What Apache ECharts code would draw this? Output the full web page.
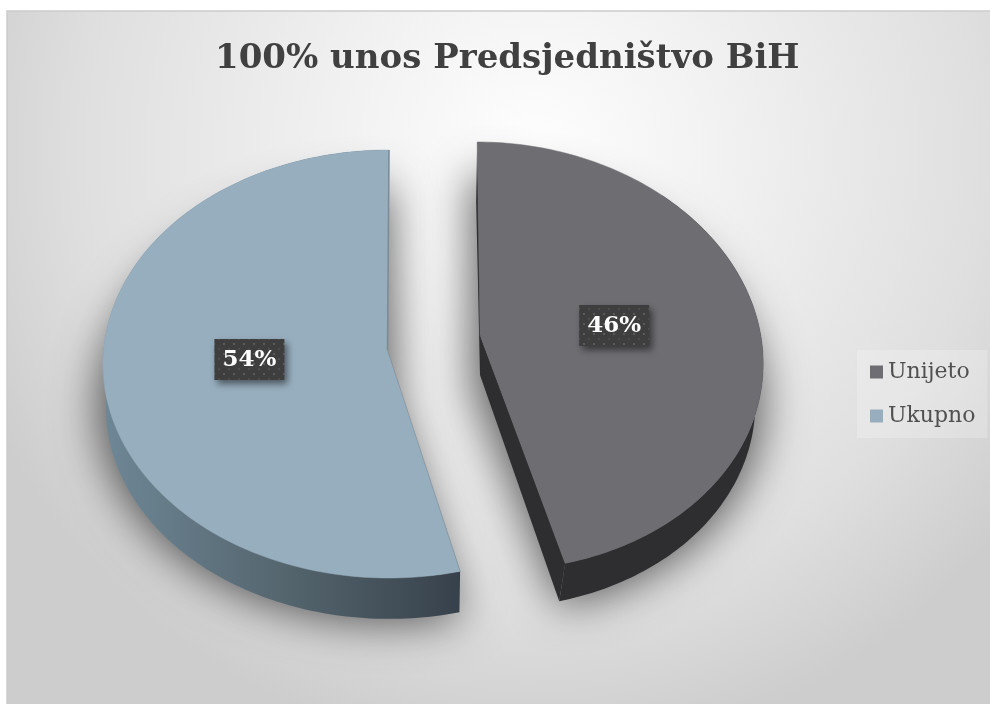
<!DOCTYPE html>
<html><head><meta charset="utf-8">
<style>html,body{margin:0;padding:0;background:#fff}#c{width:990px;height:704px}</style>
<script src="https://cdn.jsdelivr.net/npm/echarts@6/dist/echarts.min.js"></script>
</head><body><div id="c"></div>
<script>
var titleText = '100% unos Predsjedništvo BiH';
var categories = ['Unijeto', 'Ukupno'];
var values = [46, 54];
var topColors = ['#6e6d72', '#97aebe'];

var total = values[0] + values[1];
var geom = [
  {cx:487, cy:356, rx:276, ry:214, shear:0.046, ax:480, ay:335, dx:-7, dy:40, lox:-2, loy:3, wallFrom:40, wall:'#2e2e31'},
  {cx:389, cy:364, rx:286, ry:214, shear:0, ax:387, ay:350, dx:0, dy:43, lox:0, loy:-4, wallFrom:0,
   wall:{type:'linear',x:0,y:0,x2:1,y2:0,colorStops:[{offset:0,color:'#6e8796'},{offset:0.5,color:'#55666f'},{offset:1,color:'#37414b'}]}}
];
var lowerScale = 0.99;
var OFF = 3000;

function rim(g, t, scale, ox, oy) {
  var x = g.cx + ox + g.rx * scale * Math.sin(t);
  var yy = g.ry * scale * -Math.cos(t) + oy;
  return [x + g.shear * yy, g.cy + yy];
}
function arc(g, a, b, scale, ox, oy) {
  var pts = [], n = 160;
  for (var i = 0; i <= n; i++) pts.push(rim(g, a + (b - a) * i / n, scale, ox, oy));
  return pts;
}
var dotPattern = (function () {
  var c = document.createElement('canvas'); c.width = 10; c.height = 10;
  var x = c.getContext('2d');
  x.fillStyle = '#3e3e3e'; x.fillRect(0, 0, 10, 10);
  x.fillStyle = '#5a5a5a'; x.fillRect(3, 3, 2, 2);
  x.fillStyle = '#4c4c4c'; x.fillRect(8, 8, 2, 2);
  return c;
})();

function sliceRenderer(idx) {
  return function (params, api) {
    var before = 0;
    for (var i = 0; i < idx; i++) before += values[i];
    var a = before / total * Math.PI * 2;
    var b = (before + api.value(0)) / total * Math.PI * 2;
    var g = geom[idx];
    var color = api.visual('color');
    var top = arc(g, a, b, 1, 0, 0);
    var low = arc(g, a, b, lowerScale, g.dx, g.dy);
    var lowApex = [g.ax, g.ay + 40];
    var shadowArc = arc(g, a, b, 1.02, g.dx, g.dy - 14);
    var shadowPts = shadowArc.concat([[g.ax + (idx === 1 ? 8 : -8), g.ay + 40]]).map(function (p) { return [p[0] - OFF, p[1]]; });
    var children = [];
    children.push({type:'polygon', shape:{points:shadowPts}, silent:true,
      style:{fill:'#000', shadowBlur:44, shadowColor:'rgba(0,0,0,0.6)', shadowOffsetX:OFF, shadowOffsetY:12}});
    children.push({type:'polygon', shape:{points:top.slice(g.wallFrom).concat(low.slice(g.wallFrom).reverse())}, style:{fill:g.wall}});
    var endTop = top[top.length - 1], endLow = low[low.length - 1], startTop = top[0];
    if (idx === 0) {
      children.push({type:'polygon', shape:{points:[[g.ax, g.ay], lowApex, endLow, endTop]}, style:{fill:g.wall}});
      children.push({type:'polygon', shape:{points:[startTop, [startTop[0] - 1, startTop[1] + 60], lowApex, [g.ax + 1, g.ay]]}, style:{fill:g.wall}});
    }
    children.push({type:'polygon', shape:{points:top.concat([[g.ax, g.ay]])}, style:{fill:color, stroke:color, lineWidth:0.5}});
    if (idx === 1) {
      children.push({type:'polyline', shape:{points:[endTop, [g.ax + 0.5, g.ay]]}, style:{stroke:'#7a8b97', lineWidth:1.5, fill:null}});
      children.push({type:'polyline', shape:{points:[startTop, [g.ax + 0.5, g.ay]]}, style:{stroke:'#7f8f9b', lineWidth:0.7, fill:null}});
    }
    var mid = (a + b) / 2, f = 0.485;
    var lx = g.ax + g.lox + f * (g.rx + (idx === 0 ? 7 : 0)) * Math.sin(mid);
    var ly = g.ay + g.loy - f * g.ry * Math.cos(mid);
    children.push({type:'rect', shape:{x:lx - 35, y:ly - 20, width:70, height:41},
      style:{fill:{image:dotPattern, repeat:'repeat'}, shadowBlur:7, shadowOffsetX:3, shadowOffsetY:4, shadowColor:'rgba(0,0,0,0.5)'}});
    children.push({type:'text', x:lx, y:ly + 1, style:{text:Math.round(api.value(0) / total * 100) + '%',
      fill:'#fff', font:'bold 23px "DejaVu Serif"', textAlign:'center', textVerticalAlign:'middle'}});
    return {type:'group', children:children};
  };
}
function makeSeries(idx) {
  return {name:categories[idx], type:'custom', coordinateSystem:'none',
    itemStyle:{color:topColors[idx]}, renderItem:sliceRenderer(idx),
    data:[[values[idx]]], z:idx === 0 ? 3 : 2, silent:true, animation:false};
}
var chart = echarts.init(document.getElementById('c'), null, {renderer:'canvas'});
chart.setOption({
  animation:false,
  backgroundColor:'#ffffff',
  title:{text:titleText, left:215, top:42, padding:0,
    textStyle:{fontFamily:'DejaVu Serif', fontWeight:'bold', fontSize:34, color:'#404040'}},
  legend:{orient:'vertical', left:857, top:350, data:categories, icon:'rect', itemWidth:13, itemHeight:13, itemGap:22,
    padding:[11,12,11,13], backgroundColor:'rgba(255,255,255,0.22)',
    textStyle:{fontFamily:'DejaVu Serif', fontSize:22, color:'#505050'}},
  graphic:[{type:'rect', z:-10, silent:true, shape:{x:7, y:11, width:990, height:700},
    style:{stroke:'#cccccc', lineWidth:1.5, fill:{type:'radial', x:0.53, y:0.2, r:0.86, colorStops:[{offset:0,color:'#fefefe'},{offset:0.35,color:'#f0f0f0'},{offset:0.75,color:'#dfdfdf'},{offset:1,color:'#cdcdcd'}]}}}],
  series:[makeSeries(1), makeSeries(0)]
});
</script></body></html>
